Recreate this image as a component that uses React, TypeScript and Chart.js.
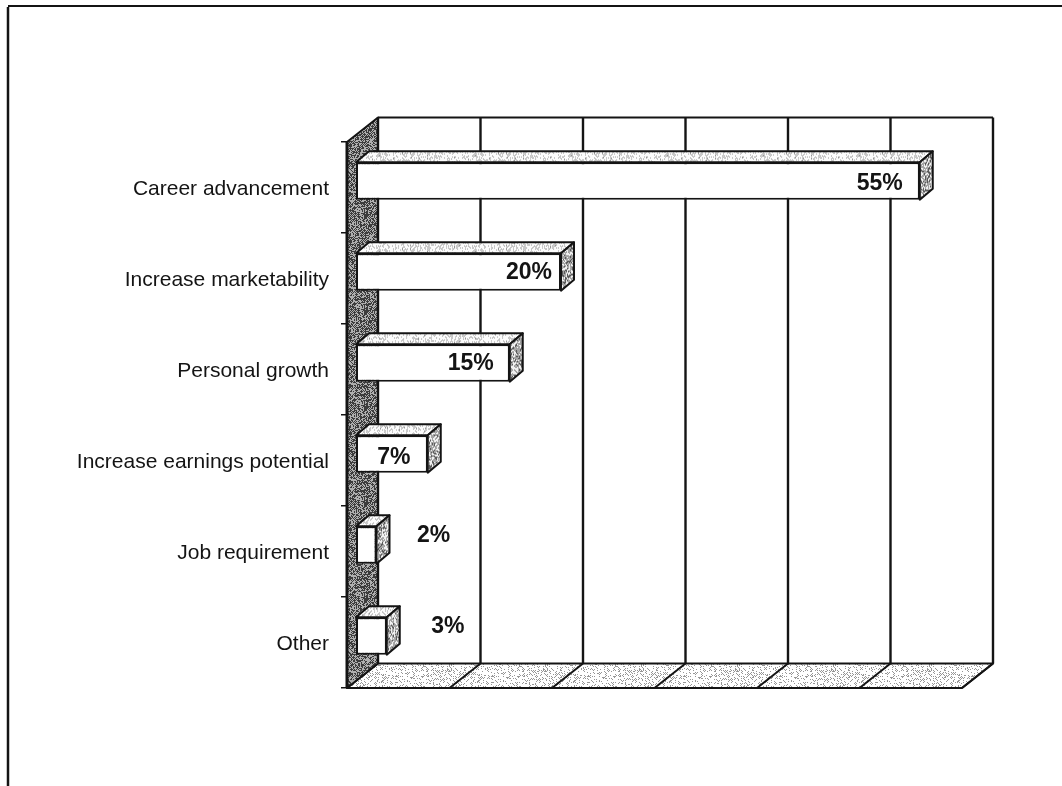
import React, { useEffect, useRef } from "react";
import { Chart, registerables } from "chart.js";

Chart.register(...registerables);

const categories = [
  "Career advancement",
  "Increase marketability",
  "Personal growth",
  "Increase earnings potential",
  "Job requirement",
  "Other",
];
const shares = [55, 20, 15, 7, 2, 3];
const labelShiftX = [-40, -32, -39, -34, 57, 61];
const labelShiftY = [2, 0, 0, 3, -10, -10];

const INK = "#141414";
const WALL_DX = 31;
const WALL_DY = -24.5;
const BAR_SHIFT_X = 9;
const BAR_SHIFT_Y = -6.5;
const BAR_DX = 13;
const BAR_DY = -11;

function halftone(dark: number, light: number, density: number, seed: number) {
  const size = 96;
  const c = document.createElement("canvas");
  c.width = size;
  c.height = size;
  const g = c.getContext("2d")!;
  const img = g.createImageData(size, size);
  for (let y = 0; y < size; y++) {
    for (let x = 0; x < size; x++) {
      const h = Math.sin((x + seed) * 12.9898 + (y - seed) * 78.233) * 43758.5453;
      const r = h - Math.floor(h);
      const checker = (x + y) % 2 === 0 ? 0.16 : -0.16;
      const v = r + checker < density ? dark : light;
      const i = (y * size + x) * 4;
      img.data[i] = v;
      img.data[i + 1] = v;
      img.data[i + 2] = v;
      img.data[i + 3] = 255;
    }
  }
  g.putImageData(img, 0, 0);
  return c;
}

function poly(ctx: CanvasRenderingContext2D, pts: number[][], fill: any, lw = 2) {
  ctx.beginPath();
  pts.forEach((p, i) => (i ? ctx.lineTo(p[0], p[1]) : ctx.moveTo(p[0], p[1])));
  ctx.closePath();
  ctx.fillStyle = fill;
  ctx.fill();
  ctx.lineWidth = lw;
  ctx.lineJoin = "round";
  ctx.strokeStyle = INK;
  ctx.stroke();
}

function line(ctx: CanvasRenderingContext2D, x1: number, y1: number, x2: number, y2: number, lw = 2) {
  ctx.beginPath();
  ctx.moveTo(x1, y1);
  ctx.lineTo(x2, y2);
  ctx.lineWidth = lw;
  ctx.strokeStyle = INK;
  ctx.stroke();
}

const scene3d = {
  id: "scene3d",
  beforeDraw(chart: any) {
    const { ctx } = chart;
    ctx.save();
    ctx.fillStyle = "#fff";
    ctx.fillRect(0, 0, chart.width, chart.height);
    line(ctx, 8, 6, chart.width, 6, 2);
    line(ctx, 8, 7, 8, chart.height, 2.5);
    ctx.restore();
  },
  beforeDatasetsDraw(chart: any) {
    const { ctx, chartArea: a, scales } = chart;
    const xs = scales.x;
    const wall = ctx.createPattern(halftone(60, 175, 0.52, 3), "repeat");
    const floor = ctx.createPattern(halftone(150, 255, 0.2, 7), "repeat");
    ctx.save();
    // floor
    poly(
      ctx,
      [
        [a.left, a.bottom],
        [a.left + WALL_DX, a.bottom + WALL_DY],
        [a.right + WALL_DX, a.bottom + WALL_DY],
        [a.right, a.bottom],
      ],
      floor
    );
    // side wall
    poly(
      ctx,
      [
        [a.left, a.top],
        [a.left + WALL_DX, a.top + WALL_DY],
        [a.left + WALL_DX, a.bottom + WALL_DY],
        [a.left, a.bottom],
      ],
      wall
    );
    // back wall grid
    line(ctx, a.left + WALL_DX, a.top + WALL_DY, a.right + WALL_DX, a.top + WALL_DY);
    const ticks = xs.ticks.map((t: any) => xs.getPixelForValue(t.value));
    ticks.forEach((px: number, i: number) => {
      const bx = px + WALL_DX;
      line(ctx, bx, a.top + WALL_DY, bx, a.bottom + WALL_DY, 2.4);
      if (i > 0) line(ctx, bx, a.bottom + WALL_DY, px, a.bottom, 2);
    });
    line(ctx, a.left, a.bottom, a.left, a.top, 3);
    ctx.restore();
    // bars are drawn by the library, moved into the depth of the chart
    ctx.save();
    ctx.translate(BAR_SHIFT_X, BAR_SHIFT_Y);
  },
  afterDatasetsDraw(chart: any) {
    const { ctx } = chart;
    const topFill = ctx.createPattern(halftone(150, 252, 0.2, 11), "repeat");
    const sideFill = ctx.createPattern(halftone(90, 240, 0.42, 17), "repeat");
    const meta = chart.getDatasetMeta(0);
    meta.data.forEach((el: any) => {
      const { x, y, base, height } = el.getProps(["x", "y", "base", "height"], true);
      const t = y - height / 2;
      const b = y + height / 2;
      poly(
        ctx,
        [
          [base, t],
          [base + BAR_DX, t + BAR_DY],
          [x + BAR_DX, t + BAR_DY],
          [x, t],
        ],
        topFill
      );
      poly(
        ctx,
        [
          [x, t],
          [x + BAR_DX, t + BAR_DY],
          [x + BAR_DX, b + BAR_DY],
          [x, b],
        ],
        sideFill
      );
    });
    ctx.restore();
    // value labels
    ctx.save();
    ctx.font = 'bold 23px "Liberation Sans"';
    ctx.fillStyle = INK;
    ctx.textAlign = "center";
    ctx.textBaseline = "middle";
    meta.data.forEach((el: any, i: number) => {
      ctx.fillText(
        `${shares[i]}%`,
        el.x + BAR_SHIFT_X + labelShiftX[i],
        el.y + BAR_SHIFT_Y + labelShiftY[i] + 1
      );
    });
    ctx.restore();
  },
};

export default function App() {
  const ref = useRef<HTMLCanvasElement>(null);
  useEffect(() => {
    document.body.style.margin = "0";
    const chart = new Chart(ref.current!, {
      type: "bar",
      data: {
        labels: categories,
        datasets: [
          {
            data: shares,
            backgroundColor: "#ffffff",
            borderColor: INK,
            borderWidth: 2,
            borderSkipped: false,
            barPercentage: 0.41,
            categoryPercentage: 1,
            clip: false,
          } as any,
        ],
      },
      options: {
        indexAxis: "y",
        responsive: false,
        animation: false,
        layout: { padding: { left: 0, top: 142, right: 100, bottom: 98 } },
        plugins: { legend: { display: false }, title: { display: false }, tooltip: { enabled: false } },
        scales: {
          x: {
            min: 0,
            max: 60,
            afterFit: (s: any) => {
              s.height = 0;
            },
            ticks: { stepSize: 10, display: false },
            grid: { display: false },
            border: { display: false },
          },
          y: {
            afterFit: (s: any) => {
              s.width = 347;
            },
            ticks: {
              color: INK,
              padding: 12,
              labelOffset: 1.5,
              font: { family: '"Liberation Sans"', size: 21 },
            },
            grid: { drawOnChartArea: false, drawTicks: true, tickLength: 6, color: INK, lineWidth: 1.5, offset: true },
            border: { display: false },
          },
        },
      },
      plugins: [scene3d],
    } as any);
    return () => chart.destroy();
  }, []);
  return <canvas ref={ref} width={1062} height={786} style={{ display: "block" }} />;
}
